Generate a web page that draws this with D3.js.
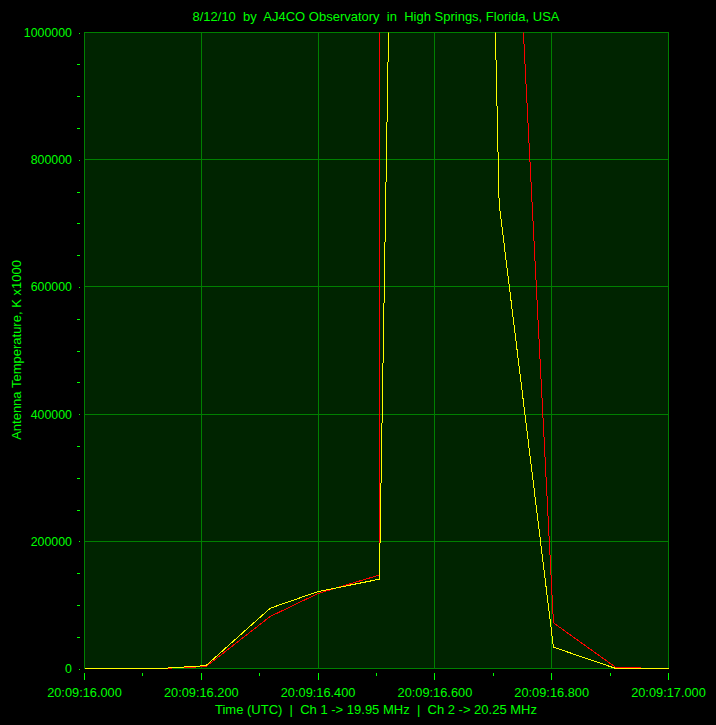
<!DOCTYPE html>
<html><head><meta charset="utf-8">
<script src="https://cdn.jsdelivr.net/npm/d3@7"></script>
<style>
html,body{margin:0;padding:0;background:#000;}
svg{display:block;}
text{font-family:"Liberation Sans",Arial,sans-serif;fill:#00ff00;white-space:pre;}
</style></head><body>
<svg id="chart" width="716" height="725"></svg>
<script>
// ---- data ----
const titleText = "8/12/10  by  AJ4CO Observatory  in  High Springs, Florida, USA";
const xTitle = "Time (UTC)  |  Ch 1 -> 19.95 MHz  |  Ch 2 -> 20.25 MHz";
const yTitle = "Antenna Temperature, K x1000";
// seconds after 20:09:16.000
const times = [0, 0.129, 0.208, 0.318, 0.400, 0.505, 0.600, 0.710, 0.803, 0.910, 1.000];
const ch1 = [0, 0, 4500, 94800, 121000, 140400, 5390000, 731000, 33500, 0, 0];
const ch2 = [0, 0, 3000, 81800, 118000, 147000, 150000000, 1750000, 71800, 1500, 0];
const xTickVals = [0, 0.2, 0.4, 0.6, 0.8, 1.0];
const xTickLabels = ["20:09:16.000", "20:09:16.200", "20:09:16.400", "20:09:16.600", "20:09:16.800", "20:09:17.000"];
const yTickVals = [0, 200000, 400000, 600000, 800000, 1000000];

// ---- layout ----
const svg = d3.select("#chart");
const L = 84.5, R = 668.5, T = 32.5, B = 668.5;
const x = d3.scaleLinear().domain([0, 1]).range([L, R]);
const y = d3.scaleLinear().domain([0, 1000000]).range([B, T]);

svg.append("rect").attr("width", 716).attr("height", 725).attr("fill", "#000");
svg.append("rect").attr("x", L).attr("y", T).attr("width", R - L).attr("height", B - T)
  .attr("fill", "#002400");

// grid
const grid = svg.append("g").attr("stroke", "#008000").attr("stroke-width", 1).attr("shape-rendering", "crispEdges");
grid.selectAll(".gx").data(xTickVals.slice(1, -1)).enter().append("line")
  .attr("x1", d => x(d)).attr("x2", d => x(d)).attr("y1", T).attr("y2", B);
grid.selectAll(".gy").data(yTickVals.slice(1, -1)).enter().append("line")
  .attr("y1", d => y(d)).attr("y2", d => y(d)).attr("x1", L).attr("x2", R);

// border
svg.append("rect").attr("x", L).attr("y", T).attr("width", R - L).attr("height", B - T)
  .attr("fill", "none").attr("stroke", "#008000").attr("stroke-width", 1).attr("shape-rendering", "crispEdges");

// clip + lines
svg.append("clipPath").attr("id", "clip").append("rect")
  .attr("x", L).attr("y", T).attr("width", R - L + 1).attr("height", B - T + 1);
const line = d3.line().x(d => x(d[0])).y(d => y(d[1]));
const gLines = svg.append("g").attr("clip-path", "url(#clip)");
gLines.append("path").datum(times.map((t, i) => [t, ch2[i]]))
  .attr("d", line).attr("fill", "none").attr("stroke", "#ff0000").attr("stroke-width", 1)
  .attr("shape-rendering", "crispEdges");
gLines.append("path").datum(times.map((t, i) => [t, ch1[i]]))
  .attr("d", line).attr("fill", "none").attr("stroke", "#ffff00").attr("stroke-width", 1)
  .attr("shape-rendering", "crispEdges");

// x axis
const xMinor = d3.range(0.1, 1, 0.2);
const xa = svg.append("g").attr("stroke", "#00ff00").attr("shape-rendering", "crispEdges");
xa.selectAll(".mj").data(xTickVals).enter().append("line")
  .attr("x1", d => x(d)).attr("x2", d => x(d)).attr("y1", 673).attr("y2", 680);
xa.selectAll(".mn").data(xMinor).enter().append("line")
  .attr("x1", d => x(d)).attr("x2", d => x(d)).attr("y1", 673).attr("y2", 676);
svg.selectAll(".xl").data(xTickVals).enter().append("text")
  .attr("x", d => x(d)).attr("y", 697).attr("text-anchor", "middle")
  .attr("font-size", "12.8px").text((d, i) => xTickLabels[i]);

// y axis
const yMinor = d3.range(50000, 1000000, 50000).filter(v => v % 200000 !== 0);
const ya = svg.append("g").attr("stroke", "#00ff00").attr("shape-rendering", "crispEdges");
ya.selectAll(".mn").data(yMinor).enter().append("line")
  .attr("x1", 77).attr("x2", 80).attr("y1", d => Math.round(y(d)) + 0.5).attr("y2", d => Math.round(y(d)) + 0.5);
ya.selectAll(".mj").data(yTickVals).enter().append("line")
  .attr("x1", 79).attr("x2", 80).attr("y1", d => Math.round(y(d)) + 0.5).attr("y2", d => Math.round(y(d)) + 0.5);
svg.selectAll(".yl").data(yTickVals).enter().append("text")
  .attr("x", 72).attr("y", d => y(d) + 4.5).attr("text-anchor", "end")
  .attr("font-size", "12.4px").text(d => String(d));

// titles
svg.append("text").attr("x", 376).attr("y", 21).attr("text-anchor", "middle")
  .attr("font-size", "13px").text(titleText);
svg.append("text").attr("x", 376).attr("y", 714).attr("text-anchor", "middle")
  .attr("font-size", "13px").text(xTitle);
svg.append("text").attr("transform", "translate(21,350) rotate(-90)").attr("text-anchor", "middle")
  .attr("font-size", "13px").text(yTitle);
</script>
</body></html>
